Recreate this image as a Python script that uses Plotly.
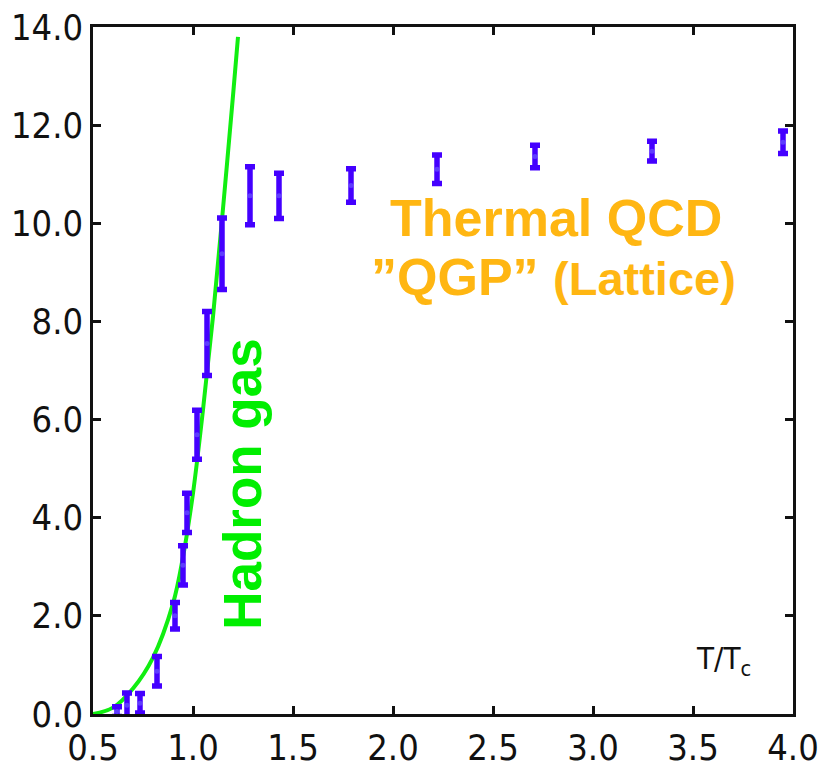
import plotly.graph_objects as go

# Lattice data (T/Tc, value, error)
lat_T = [0.62, 0.67, 0.735, 0.82, 0.91, 0.95, 0.97, 1.02, 1.07, 1.145, 1.285, 1.43, 1.79, 2.22, 2.71, 3.295, 3.95]
lat_y = [0.05, 0.18, 0.22, 0.87, 2.0, 3.03, 4.1, 5.69, 7.55, 9.38, 10.56, 10.56, 10.77, 11.1, 11.36, 11.47, 11.65]
lat_err = [0.1, 0.25, 0.2, 0.3, 0.27, 0.4, 0.4, 0.5, 0.65, 0.73, 0.59, 0.46, 0.34, 0.29, 0.23, 0.2, 0.23]

# Hadron gas curve
hg_T = [0.5, 0.6, 0.7, 0.8, 0.9, 0.95, 1.0, 1.05, 1.1, 1.15, 1.2, 1.225]
hg_y = [0.0, 0.13, 0.52, 1.15, 2.25, 3.2, 4.5, 6.2, 8.1, 10.3, 12.6, 13.8]

x_ticks = [0.5, 1.0, 1.5, 2.0, 2.5, 3.0, 3.5, 4.0]
y_ticks = [0, 2, 4, 6, 8, 10, 12, 14]

tick_font = dict(family="Liberation Sans Narrow, Arial Narrow, DejaVu Sans Condensed, Liberation Sans, Arial",
                 size=36, color="#111111")

fig = go.Figure()
fig.add_trace(go.Scatter(
    x=hg_T, y=hg_y, mode="lines", line=dict(color="#11ee11", width=4, shape="spline"),
    hoverinfo="skip", showlegend=False))
fig.add_trace(go.Scatter(
    x=lat_T, y=lat_y, mode="markers",
    marker=dict(size=5, color="rgba(120,120,255,0.5)"),
    error_y=dict(type="data", array=lat_err, visible=True, color="#4400ff", thickness=5.5, width=5),
    showlegend=False))

axis_common = dict(showline=True, linecolor="#111111", linewidth=2.5, mirror="ticks",
                   ticks="inside", ticklen=8, tickwidth=3, tickcolor="#111111",
                   showgrid=False, zeroline=False, tickformat=".1f", tickfont=tick_font,
                   automargin=False)

fig.update_xaxes(range=[0.5, 4.0], tickvals=x_ticks, **axis_common)
fig.update_yaxes(range=[0, 14], tickvals=y_ticks, **axis_common)

bold = "Liberation Sans, Arial, sans-serif"
fig.add_annotation(x=1.25, y=4.69, text="<b>Hadron gas</b>", textangle=-90, showarrow=False,
                   font=dict(family=bold, size=53, color="#00ee00"), xanchor="center", yanchor="middle")
fig.add_annotation(x=2.815, y=10.11, text="<b>Thermal QCD</b>", showarrow=False,
                   font=dict(family=bold, size=52, color="#ffb612"), xanchor="center", yanchor="middle")
fig.add_annotation(x=2.80, y=8.9, text="<b>\u201dQGP\u201d <span style='font-size:47px'>(Lattice)</span></b>",
                   showarrow=False,
                   font=dict(family=bold, size=52, color="#ffb612"), xanchor="center", yanchor="middle")
fig.add_annotation(x=3.65, y=1.1, text="T/T<sub>c</sub>", showarrow=False,
                   font=dict(family=tick_font["family"], size=31, color="#111111"),
                   xanchor="center", yanchor="middle")

fig.update_layout(width=826, height=777, margin=dict(l=93, r=33, t=27, b=63, autoexpand=False),
                  plot_bgcolor="white", paper_bgcolor="white")

fig.write_html("out.html")
